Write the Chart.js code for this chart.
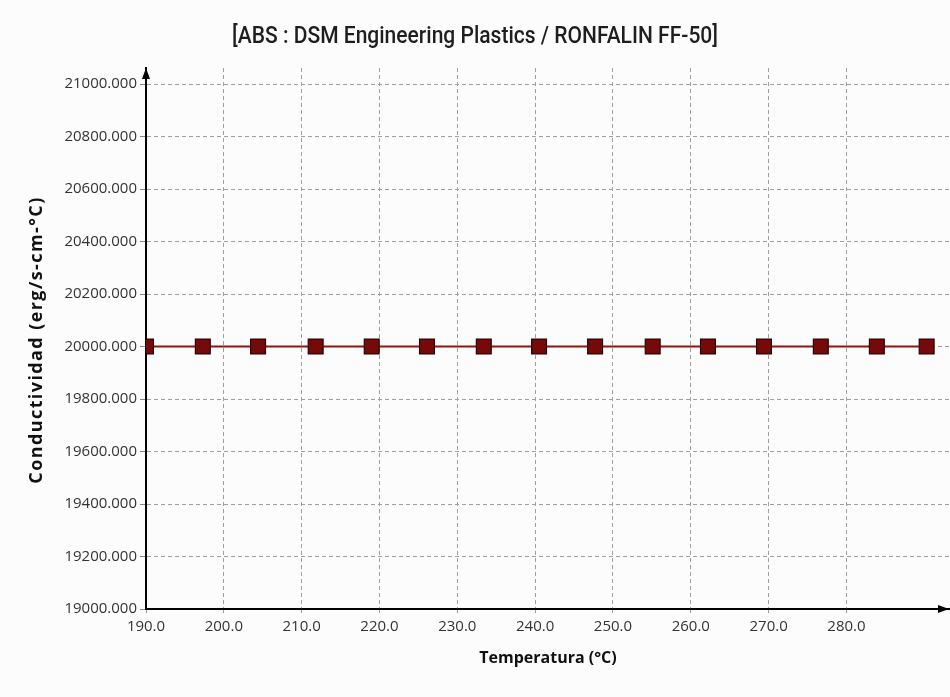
<!DOCTYPE html>
<html>
<head>
<meta charset="utf-8">
<script src="https://cdn.jsdelivr.net/npm/chart.js@4.4.1/dist/chart.umd.min.js"></script>
<style>
  html, body { margin: 0; padding: 0; background: #fcfcfc; }
  #wrap { width: 950px; height: 697px; }
</style>
</head>
<body>
<div id="wrap"><canvas id="chart" width="950" height="697"></canvas></div>
<script>
  const chartTitle = "[ABS : DSM Engineering Plastics / RONFALIN FF-50]";
  const yTitle = "Conductividad (erg/s-cm-°C)";
  const xTitle = "Temperatura (°C)";
  const temperatures = [190.0, 197.3, 204.4, 211.8, 219.0, 226.1, 233.4, 240.5, 247.7, 255.1, 262.2, 269.4, 276.7, 283.9, 290.3];
  const conductivity = [20000, 20000, 20000, 20000, 20000, 20000, 20000, 20000, 20000, 20000, 20000, 20000, 20000, 20000, 20000];
  const xTickValues = [190, 200, 210, 220, 230, 240, 250, 260, 270, 280];
  const yTickValues = [19000, 19200, 19400, 19600, 19800, 20000, 20200, 20400, 20600, 20800, 21000];

  const tickFont = { family: "'Open Sans', 'Noto Sans', sans-serif", size: 15 };

  // narrow title, rotated y title and the axis arrow heads
  const decorations = {
    id: "decorations",
    afterDraw(chart) {
      const { ctx, chartArea } = chart;
      ctx.save();

      // title: squeezed horizontally like a condensed face
      ctx.font = "500 23px Roboto, 'Liberation Sans', sans-serif";
      ctx.fillStyle = "#1e1e1e";
      ctx.textAlign = "center";
      ctx.textBaseline = "middle";
      const tw = ctx.measureText(chartTitle).width;
      ctx.save();
      ctx.translate(475, 37);
      ctx.scale(486 / tw, 1);
      ctx.fillText(chartTitle, 0, 0);
      ctx.restore();

      // y axis title
      ctx.save();
      ctx.font = "bold 18px 'Open Sans', 'Noto Sans', sans-serif";
      ctx.fillStyle = "#111";
      const yw = ctx.measureText(yTitle).width;
      ctx.letterSpacing = Math.max(0, (286 - yw) / (yTitle.length - 1)) + "px";
      ctx.translate(37, 340);
      ctx.rotate(-Math.PI / 2);
      ctx.textAlign = "center";
      ctx.textBaseline = "middle";
      ctx.fillText(yTitle, 0, 0);
      ctx.restore();

      // arrows
      ctx.fillStyle = "#000";
      ctx.beginPath();
      ctx.moveTo(chartArea.left, chartArea.top);
      ctx.lineTo(chartArea.left - 4, chartArea.top + 11);
      ctx.lineTo(chartArea.left + 4, chartArea.top + 11);
      ctx.closePath();
      ctx.fill();
      ctx.beginPath();
      ctx.moveTo(chartArea.right - 1, chartArea.bottom);
      ctx.lineTo(chartArea.right - 12, chartArea.bottom - 4);
      ctx.lineTo(chartArea.right - 12, chartArea.bottom + 4);
      ctx.closePath();
      ctx.fill();
      ctx.restore();
    }
  };

  new Chart(document.getElementById("chart").getContext("2d"), {
    type: "line",
    data: {
      datasets: [{
        data: temperatures.map((t, i) => ({ x: t, y: conductivity[i] })),
        borderColor: "#8b1414",
        borderWidth: 2,
        pointStyle: "rect",
        pointRadius: 10.5,
        pointBackgroundColor: "#760a0a",
        pointBorderColor: "#2e0000",
        pointBorderWidth: 1.2
      }]
    },
    options: {
      responsive: false,
      animation: false,
      layout: { autoPadding: false, padding: { left: 0, right: 0, top: 68, bottom: 0 } },
      plugins: {
        legend: { display: false },
        tooltip: { enabled: false },
        title: { display: false }
      },
      scales: {
        x: {
          type: "linear",
          min: 190,
          max: 293.3,
          afterBuildTicks: scale => { scale.ticks = xTickValues.map(v => ({ value: v })); },
          afterFit: scale => { scale.height = 88; },
          ticks: {
            color: "#333",
            font: tickFont,
            padding: 3,
            maxRotation: 0,
            callback: v => Number(v).toFixed(1)
          },
          grid: { color: "#a0a0a0", lineWidth: 1, tickLength: 6, tickColor: "#999", tickBorderDash: [3, 3] },
          border: { color: "#000", width: 2, dash: [4, 3] },
          title: {
            display: true,
            text: xTitle,
            color: "#111",
            font: { family: "'Open Sans', 'Noto Sans', sans-serif", size: 16, weight: "bold" },
            padding: { top: 4, bottom: 29 }
          }
        },
        y: {
          min: 19000,
          max: 21061,
          afterBuildTicks: scale => { scale.ticks = yTickValues.map(v => ({ value: v })); },
          afterFit: scale => { scale.width = 146; },
          ticks: {
            color: "#333",
            font: tickFont,
            padding: 3,
            callback: v => Number(v).toFixed(3)
          },
          grid: { color: "#a0a0a0", lineWidth: 1, tickLength: 6, tickColor: "#888" },
          border: { color: "#000", width: 2, dash: [4, 3] },
          title: { display: false }
        }
      }
    },
    plugins: [decorations]
  });
</script>
</body>
</html>
